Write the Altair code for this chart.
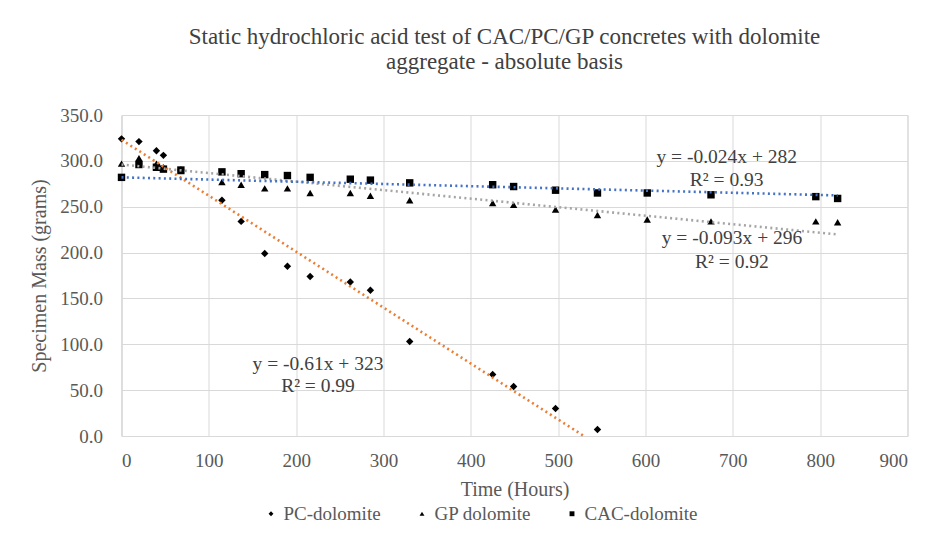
import altair as alt
import pandas as pd

# ---- data ----
series_names = ["PC-dolomite", "GP dolomite", "CAC-dolomite"]

hours_pc = [0, 20, 40, 48, 68, 115, 137, 164, 190, 216, 262, 285, 330, 425, 449, 497, 545]
mass_pc = [324, 321, 311, 306, 290, 257, 234, 199, 185, 174, 168, 159, 103, 67, 54, 30, 7]

hours_all = [0, 20, 40, 48, 68, 115, 137, 164, 190, 216, 262, 285, 330, 425, 449, 497, 545, 602, 675, 795, 820]
mass_gp = [297, 303, 297, 293, 289, 277, 274, 270, 270, 265, 265, 262, 257, 254, 252, 247, 241, 236, 234, 234, 233]
mass_cac = [282, 296, 293, 291, 290, 288, 286, 285, 284, 282, 280, 279, 276, 274, 272, 268, 265, 265, 263, 261, 259]

# linear trendlines (as printed on the chart)
trend_names = ["PC trend", "GP trend", "CAC trend"]
trend_slope = [-0.61, -0.093, -0.024]
trend_intercept = [323, 296, 282]
trend_end = [529.5, 820, 820]
trend_colors = ["#ED7D31", "#A5A5A5", "#4472C4"]
eq_text = ["y = -0.61x + 323", "y = -0.093x + 296", "y = -0.024x + 282"]
r2_text = ["R\u00b2 = 0.99", "R\u00b2 = 0.92", "R\u00b2 = 0.93"]
eq_x = [225, 699, 693]
eq_y = [78.5, 216, 304]
r2_y = [54, 190, 279]

x_ticks = list(range(0, 901, 100))
y_ticks = list(range(0, 351, 50))

FONT = "Liberation Serif"
GRID = "#D9D9D9"
TXT = "#595959"

# ---- tables ----
pts = pd.concat([
    pd.DataFrame({"Hours": hours_pc, "Mass": mass_pc, "Series": series_names[0]}),
    pd.DataFrame({"Hours": hours_all, "Mass": mass_gp, "Series": series_names[1]}),
    pd.DataFrame({"Hours": hours_all, "Mass": mass_cac, "Series": series_names[2]}),
], ignore_index=True)

trend_rows = []
for name, m, b, e in zip(trend_names, trend_slope, trend_intercept, trend_end):
    trend_rows.append({"Hours": 0, "Mass": b, "Trend": name})
    trend_rows.append({"Hours": e, "Mass": b + m * e, "Trend": name})
trend = pd.DataFrame(trend_rows)

labels = pd.DataFrame({"x": eq_x + eq_x, "y": eq_y + r2_y, "t": eq_text + r2_text})

x_enc = alt.X("Hours:Q", scale=alt.Scale(domain=[0, 900], nice=False),
              axis=alt.Axis(values=x_ticks, format="d", title="Time (Hours)"))
y_enc = alt.Y("Mass:Q", scale=alt.Scale(domain=[0, 350], nice=False),
              axis=alt.Axis(values=y_ticks, format=".1f", title="Specimen Mass (grams)"))

points = alt.Chart(pts).mark_point(filled=True, opacity=1, color="black").encode(
    x=x_enc,
    y=y_enc,
    shape=alt.Shape("Series:N",
                    scale=alt.Scale(domain=series_names, range=["diamond", "triangle-up", "square"]),
                    sort=series_names,
                    legend=alt.Legend(title=None, orient="none", direction="horizontal",
                                      legendX=140, legendY=389, symbolSize=24,
                                      symbolFillColor="black", symbolStrokeColor="black",
                                      labelFont=FONT, labelFontSize=19, labelColor=TXT,
                                      labelOffset=3, columnPadding=31)),
    size=alt.value(55),
)

lines = alt.Chart(trend).mark_line(strokeWidth=2.6, strokeDash=[2, 3.3]).encode(
    x="Hours:Q",
    y="Mass:Q",
    color=alt.Color("Trend:N", scale=alt.Scale(domain=trend_names, range=trend_colors), legend=None),
)

texts = alt.Chart(labels).mark_text(font=FONT, fontSize=19.5, color="#404040").encode(
    x="x:Q", y="y:Q", text="t:N"
)

chart = alt.layer(points, lines, texts).properties(
    width=786,
    height=321,
    background="white",
    autosize=alt.AutoSizeParams(type="none"),
    padding={"left": 113.5, "top": 107, "right": 10, "bottom": 98},
    title=alt.TitleParams(
        ["Static hydrochloric acid test of CAC/PC/GP concretes with dolomite",
         "aggregate - absolute basis"],
        font=FONT, fontSize=23, fontWeight="normal", color="#404040",
        anchor="middle", offset=32, lineHeight=25, dx=-10,
    ),
).configure_axis(
    labelFont=FONT, labelFontSize=19, labelColor=TXT,
    titleFont=FONT, titleFontSize=20, titleColor=TXT, titleFontWeight="normal",
    gridColor=GRID, domainColor=GRID, ticks=False, tickSize=0,
).configure_axisX(
    labelPadding=15, titlePadding=9,
).configure_axisY(
    labelPadding=19, titlePadding=10,
).configure_view(
    stroke=GRID,
)

chart.save("out.html", embed_options={"renderer": "svg", "actions": False})
